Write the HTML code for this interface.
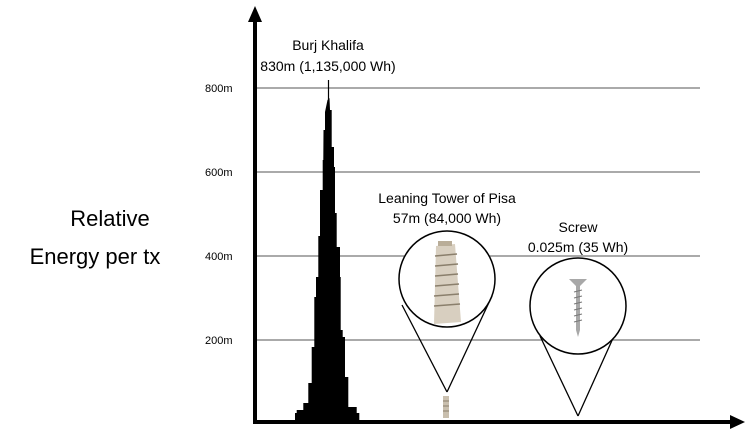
<!DOCTYPE html>
<html><head><meta charset="utf-8"><style>
html,body{margin:0;padding:0;background:#fff;}
svg{display:block;}
text{font-family:"Liberation Sans",sans-serif;fill:#000;}
</style></head><body>
<svg width="750" height="430" viewBox="0 0 750 430" xmlns="http://www.w3.org/2000/svg">
<rect width="750" height="430" fill="#fff"/>
<g stroke="#555" stroke-width="1">
<line x1="255" y1="88" x2="700" y2="88"/>
<line x1="255" y1="172" x2="700" y2="172"/>
<line x1="255" y1="256" x2="700" y2="256"/>
<line x1="255" y1="340" x2="700" y2="340"/>
</g>
<g font-size="11">
<text x="205" y="92">800m</text>
<text x="205" y="176">600m</text>
<text x="205" y="260">400m</text>
<text x="205" y="344">200m</text>
</g>
<text x="110" y="226" font-size="22" text-anchor="middle">Relative</text>
<text x="95" y="264" font-size="22" text-anchor="middle">Energy per tx</text>
<line x1="255" y1="18" x2="255" y2="424" stroke="#000" stroke-width="4"/>
<polygon points="255,6 248,22 262,22" fill="#000"/>
<line x1="253" y1="422" x2="732" y2="422" stroke="#000" stroke-width="4"/>
<polygon points="745,422 730,415 730,429" fill="#000"/>
<line x1="328.5" y1="80" x2="328.5" y2="105" stroke="#000" stroke-width="1.2"/>
<polygon fill="#000" points="327.5,100 325,112 325,130 323.5,130 323.3,160 322.7,160 322.7,190 320,190 320,236 318.3,236 318.3,277 316,277 316,297 314.3,297 314.3,347 311.7,347 311.7,383 308.3,383 308.3,403 303.3,403 303.3,410 296.7,410 296.7,413 295,413 295,421 359.3,421 359.3,413 356.7,413 356.7,407 348.3,407 348.3,377 345,377 345,337 342.7,337 342.7,330 340.7,330 340.7,277 340,277 340,247 336.7,247 336.7,213 335,213 335,167 334,167 334,147 331.7,147 331.7,110 330,110 329.5,98"/>
<text x="328" y="50" font-size="14" text-anchor="middle">Burj Khalifa</text>
<text x="328" y="71" font-size="14" text-anchor="middle">830m (1,135,000 Wh)</text>
<text x="447" y="203" font-size="14" text-anchor="middle">Leaning Tower of Pisa</text>
<text x="447" y="223" font-size="14" text-anchor="middle">57m (84,000 Wh)</text>
<g stroke="#000" stroke-width="1.3" fill="none">
<line x1="402" y1="305" x2="447" y2="392"/>
<line x1="492" y1="296" x2="447" y2="392"/>
</g>
<circle cx="447" cy="279" r="48" fill="#fff" stroke="#000" stroke-width="1.5"/>
<g>
<polygon points="436,246 455,244 461,322 434,324" fill="#d8cfc0"/>
<rect x="438" y="241" width="14" height="5" fill="#b9ad98"/>
<g stroke="#8a7f6c" stroke-width="1.5">
<line x1="435" y1="256" x2="457" y2="254"/><line x1="435" y1="266" x2="458" y2="264"/>
<line x1="435" y1="276" x2="458" y2="274"/><line x1="435" y1="286" x2="459" y2="284"/>
<line x1="434" y1="296" x2="459" y2="294"/><line x1="434" y1="306" x2="460" y2="304"/>
</g>
</g>
<rect x="443" y="396" width="6" height="22" fill="#c9bfae"/>
<g stroke="#8a7f6c" stroke-width="1"><line x1="443" y1="401" x2="449" y2="401"/><line x1="443" y1="406" x2="449" y2="406"/><line x1="443" y1="411" x2="449" y2="411"/></g>
<text x="578" y="232" font-size="14" text-anchor="middle">Screw</text>
<text x="578" y="252" font-size="14" text-anchor="middle">0.025m (35 Wh)</text>
<g stroke="#000" stroke-width="1.3" fill="none">
<line x1="540" y1="336" x2="578" y2="416"/>
<line x1="614" y1="336" x2="578" y2="416"/>
</g>
<circle cx="578" cy="306" r="48" fill="#fff" stroke="#000" stroke-width="1.5"/>
<polygon points="569,279 587,279 580,286 580,330 578,337 576,330 576,286" fill="#a8a8a8"/>
<g stroke="#777" stroke-width="1"><line x1="574" y1="292" x2="582" y2="290"/><line x1="574" y1="298" x2="582" y2="296"/><line x1="574" y1="304" x2="582" y2="302"/><line x1="574" y1="310" x2="582" y2="308"/><line x1="574" y1="316" x2="582" y2="314"/><line x1="574" y1="322" x2="582" y2="320"/></g>
</svg>
</body></html>
